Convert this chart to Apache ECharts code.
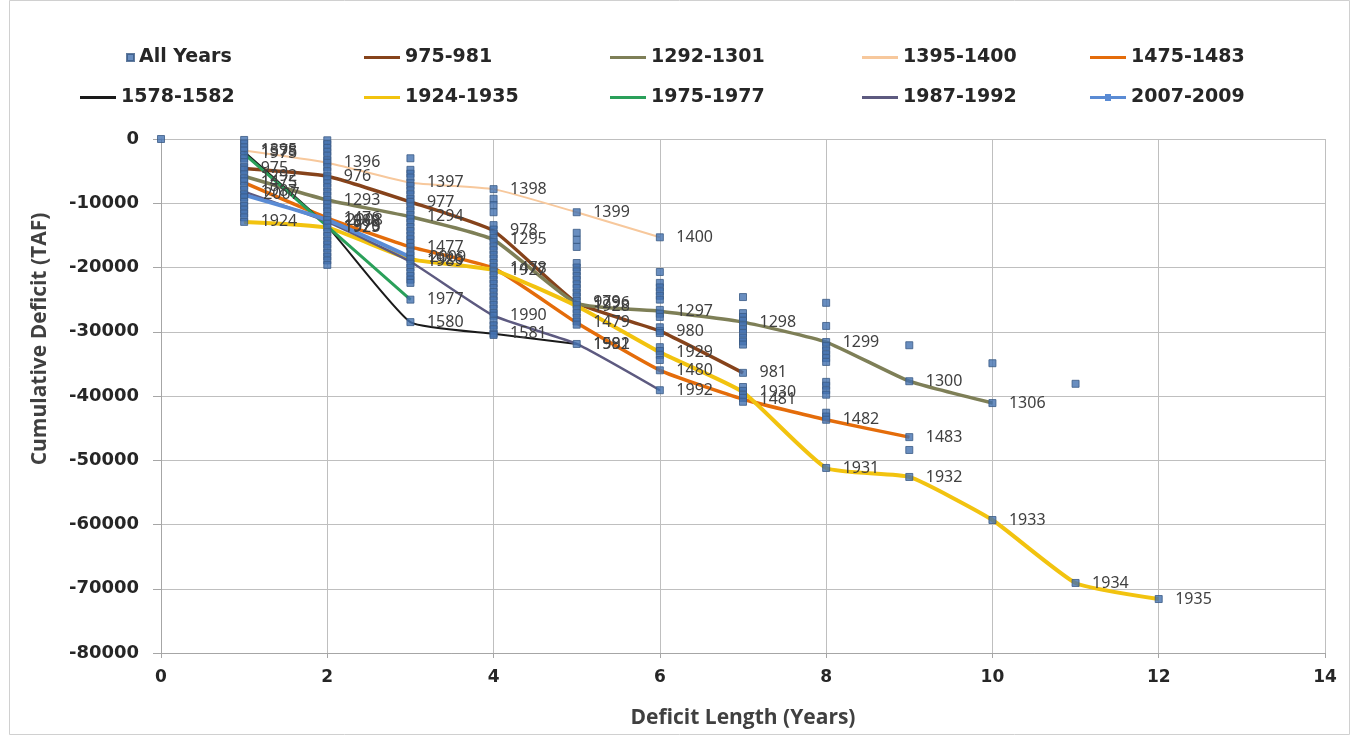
<!DOCTYPE html>
<html>
<head>
<meta charset="utf-8">
<title>Cumulative Deficit by Deficit Length</title>
<script src="https://cdn.jsdelivr.net/npm/echarts@6/dist/echarts.min.js"></script>
<style>
  html, body { margin: 0; padding: 0; background: #ffffff; }
  #chart { width: 1359px; height: 738px; }
</style>
</head>
<body>
<div id="chart"></div>
<script>
// Cumulative deficit (TAF) for every deficit period, indexed by deficit length in years.
const allYearsByLength = [
  [0],
  [-150, -700, -1300, -1800, -2500, -3000, -3600, -4400, -4800, -5500, -6100, -6600, -7300, -7900,
   -8600, -9100, -9800, -10400, -11000, -11600, -12200, -12900],
  [-200, -800, -1400, -2000, -2600, -3300, -3700, -4400, -5000, -5800, -6300, -6900, -7500, -8200,
   -8800, -9500, -10100, -10700, -11300, -12000, -12600, -13200, -13800, -14500, -15100, -15800,
   -16400, -17000, -17700, -18300, -18900, -19600],
  [-3000, -4800, -5400, -6000, -6800, -7300, -8000, -8600, -9300, -9800, -10500, -11100, -11800,
   -12400, -13000, -13700, -14300, -15000, -15600, -16200, -16800, -17500, -18100, -18700, -19400,
   -20000, -20700, -21300, -21900, -22400, -25000, -28500],
  [-7800, -9300, -10300, -11400, -13400, -14100, -14700, -15400, -16000, -16700, -17300, -18000,
   -18600, -19300, -19900, -20600, -21200, -21900, -22500, -23200, -23800, -24500, -25100, -25800,
   -26400, -27100, -27500, -28300, -29000, -29600, -30300, -30500],
  [-11400, -14600, -15700, -16800, -19300, -20000, -20600, -21300, -21900, -22600, -23200, -23900,
   -24500, -25200, -25800, -26500, -27100, -27800, -28400, -28900, -31900],
  [-15300, -20700, -22400, -23100, -23700, -24400, -25000, -26600, -27200, -27700, -29300, -29900,
   -30200, -32400, -33000, -33600, -34400, -36000, -39100],
  [-24600, -27100, -27700, -28300, -29000, -29600, -30200, -30900, -31500, -32000, -36400, -38600,
   -39200, -39800, -40300, -40900],
  [-25500, -29100, -31600, -32200, -32900, -33500, -34100, -34700, -37800, -38400, -39100, -39800,
   -42600, -43200, -43700, -51200],
  [-32100, -37700, -46400, -48400, -52600],
  [-34900, -41100, -59300],
  [-38100, -69100],
  [-71600]
];

// Individual deficit periods: cumulative deficit for lengths 1, 2, 3, ...
const names = ['975-981', '1292-1301', '1395-1400', '1475-1483', '1578-1582',
               '1924-1935', '1975-1977', '1987-1992', '2007-2009'];

const deficit975 = [-4600, -5800, -9800, -14300, -25500, -29900, -36400];
const years975 = ['975', '976', '977', '978', '979', '980', '981'];

const deficit1292 = [-5800, -9500, -12100, -15700, -25600, -26800, -28500, -31600, -37700, -41100];
const years1292 = ['1292', '1293', '1294', '1295', '1296', '1297', '1298', '1299', '1300', '1306'];

const deficit1395 = [-1800, -3700, -6800, -7800, -11400, -15300];
const years1395 = ['1395', '1396', '1397', '1398', '1399', '1400'];

const deficit1475 = [-6800, -12300, -16800, -20100, -28600, -36000, -40500, -43700, -46400];
const years1475 = ['1475', '1476', '1477', '1478', '1479', '1480', '1481', '1482', '1483'];

const deficit1578 = [-2000, -13600, -28500, -30300, -31900];
const years1578 = ['1578', '1579', '1580', '1581', '1582'];

const deficit1924 = [-12900, -13800, -18700, -20400, -26000, -33200, -39400, -51200, -52600,
                     -59300, -69100, -71600];
const years1924 = ['1924', '1925', '1926', '1927', '1928', '1929', '1930', '1931', '1932',
                   '1933', '1934', '1935'];

const deficit1975 = [-2300, -13600, -25000];
const years1975 = ['1975', '1976', '1977'];

const deficit1987 = [-8200, -12900, -19100, -27500, -31900, -39100];
const years1987 = ['1987', '1988', '1989', '1990', '1991', '1992'];

const deficit2007 = [-8700, -12600, -18400];
const years2007 = ['2007', '2008', '2009'];

const xTicks = [0, 2, 4, 6, 8, 10, 12, 14];

// ---- styling ----
const periods = [
  { name: names[0], values: deficit975,  years: years975,  color: '#86431b', width: 3.5 },
  { name: names[1], values: deficit1292, years: years1292, color: '#7e7f57', width: 3.5 },
  { name: names[2], values: deficit1395, years: years1395, color: '#f7c89c', width: 2 },
  { name: names[3], values: deficit1475, years: years1475, color: '#e46c0a', width: 3.5 },
  { name: names[4], values: deficit1578, years: years1578, color: '#1a1a1a', width: 2 },
  { name: names[5], values: deficit1924, years: years1924, color: '#f2c30f', width: 4 },
  { name: names[6], values: deficit1975, years: years1975, color: '#2aa05a', width: 3 },
  { name: names[7], values: deficit1987, years: years1987, color: '#5d5a80', width: 2.5 },
  { name: names[8], values: deficit2007, years: years2007, color: '#5a8bd4', width: 4, marker: true }
];

const scatterData = [];
allYearsByLength.forEach((vals, len) => vals.forEach(v => scatterData.push([len, v])));

const labelFont = { color: '#404040', fontFamily: 'Noto Sans', fontSize: 16 };

const lineSeries = periods.map(p => ({
  name: p.name,
  type: 'line',
  z: 3,
  smooth: 0.15,
  symbol: p.marker ? 'rect' : 'circle',
  symbolSize: p.marker ? 6 : 1,
  showSymbol: true,
  itemStyle: { color: p.color },
  lineStyle: { color: p.color, width: p.width },
  label: {
    show: true,
    position: 'right',
    distance: 16,
    formatter: params => p.years[params.dataIndex],
    ...labelFont
  },
  emphasis: { disabled: true },
  data: p.values.map((v, i) => [i + 1, v])
}));

const scatterSeries = {
  name: 'All Years',
  type: 'scatter',
  z: 4,
  symbol: 'rect',
  symbolSize: 7,
  itemStyle: { color: '#4472b0', borderColor: '#3a5a84', borderWidth: 1 },
  emphasis: { disabled: true },
  data: scatterData
};

// Legend laid out as a 5 x 2 grid
const legendText = { fontFamily: 'DejaVu Sans', fontWeight: 'bold', fontSize: 19, color: '#262626' };
const lineIcon = 'rect';
const markerLineIcon = 'path://M0,6 L36,6 L36,9 L0,9 Z M15,4 L21,4 L21,11 L15,11 Z';
const legendCells = [
  { name: 'All Years', left: 126, top: 48, icon: 'rect', w: 7, h: 7 },
  { name: names[0], left: 364, top: 48 },
  { name: names[1], left: 610, top: 48 },
  { name: names[2], left: 862, top: 48 },
  { name: names[3], left: 1090, top: 48 },
  { name: names[4], left: 80, top: 88 },
  { name: names[5], left: 364, top: 88 },
  { name: names[6], left: 610, top: 88 },
  { name: names[7], left: 862, top: 88 },
  { name: names[8], left: 1090, top: 88, icon: markerLineIcon, h: 12 }
];
const legends = legendCells.map(c => ({
  data: [{ name: c.name, icon: c.icon || lineIcon }],
  left: c.left,
  top: c.top,
  itemWidth: c.w || 36,
  itemHeight: c.h || 3,
  padding: 0,
  selectedMode: false,
  textStyle: legendText
}));

const tickFont = { fontFamily: 'DejaVu Sans', fontWeight: 'bold', fontSize: 18, color: '#262626' };
const titleFont = { fontFamily: 'Open Sans', fontWeight: 'bold', fontSize: 21, color: '#404040' };

const chart = echarts.init(document.getElementById('chart'), null, { renderer: 'canvas' });
chart.setOption({
  animation: false,
  backgroundColor: '#ffffff',
  grid: { left: 161, right: 34, top: 139, bottom: 85, containLabel: false },
  legend: legends,
  xAxis: {
    type: 'value',
    min: xTicks[0],
    max: xTicks[xTicks.length - 1],
    interval: 2,
    name: 'Deficit Length (Years)',
    nameLocation: 'middle',
    nameGap: 55,
    nameTextStyle: titleFont,
    axisLine: { onZero: false, lineStyle: { color: '#a6a6a6', width: 1 } },
    axisTick: { show: true, length: 5, lineStyle: { color: '#a6a6a6' } },
    axisLabel: { margin: 16, ...tickFont, fontSize: 17 },
    splitLine: { show: true, lineStyle: { color: '#bfbfbf', width: 1 } }
  },
  yAxis: {
    type: 'value',
    min: -80000,
    max: 0,
    interval: 10000,
    axisLine: { show: true, onZero: false, lineStyle: { color: '#a6a6a6', width: 1 } },
    axisTick: { show: true, length: 8, lineStyle: { color: '#a6a6a6' } },
    axisLabel: { margin: 22, ...tickFont, formatter: v => String(v) },
    splitLine: { show: true, lineStyle: { color: '#bfbfbf', width: 1 } }
  },
  graphic: [
    {
      type: 'rect',
      silent: true,
      shape: { x: 9.5, y: 0.5, width: 1340, height: 734 },
      style: { fill: 'none', stroke: '#d0d0d0', lineWidth: 1 }
    },
    {
      type: 'text',
      silent: true,
      x: 40,
      y: 339,
      rotation: Math.PI / 2,
      style: {
        text: 'Cumulative Deficit (TAF)',
        ...titleFont,
        fill: '#404040',
        textAlign: 'center',
        textVerticalAlign: 'middle'
      }
    }
  ],
  series: [scatterSeries, ...lineSeries]
});
</script>
</body>
</html>
